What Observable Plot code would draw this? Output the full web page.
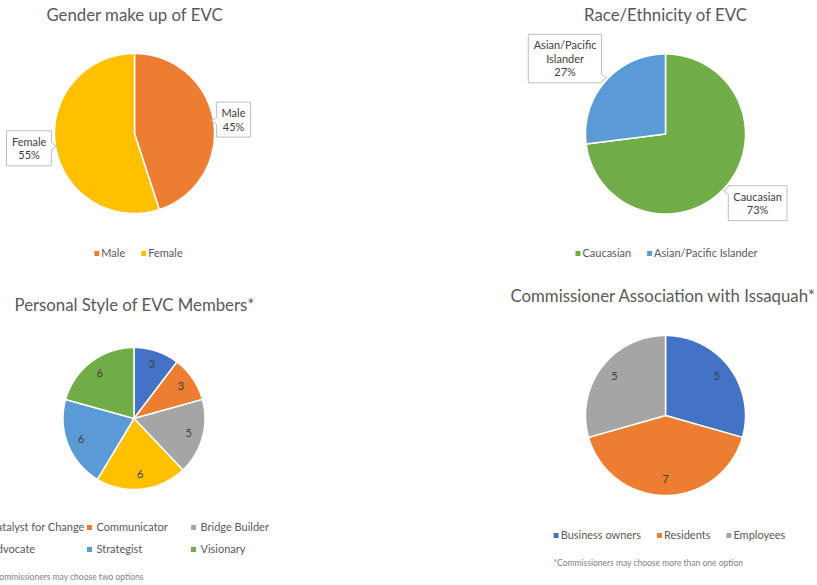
<!DOCTYPE html>
<html><head><meta charset="utf-8">
<script src="https://cdn.jsdelivr.net/npm/d3@7"></script>
<script src="https://cdn.jsdelivr.net/npm/@observablehq/plot@0.6"></script>
<style>body{margin:0;background:#fff;} #chart svg{display:block;}</style>
</head><body><div id="chart"></div>
<script>
// ---- data ----
const genderLabels = ["Male", "Female"];
const genderValues = [45, 55];
const raceLabels = ["Caucasian", "Asian/Pacific Islander"];
const raceValues = [73, 27];
const styleLabels = ["Catalyst for Change", "Communicator", "Bridge Builder", "Advocate", "Strategist", "Visionary"];
const styleValues = [3, 3, 5, 6, 6, 6];
const assocLabels = ["Business owners", "Residents", "Employees"];
const assocValues = [5, 7, 5];
const titles = ["Gender make up of EVC", "Race/Ethnicity of EVC", "Personal Style of EVC Members*", "Commissioner Association with Issaquah*"];
const footnotes = ["*Commissioners may choose two options", "*Commissioners may choose more than one option"];

// ---- style / layout ----
const C = {blue:"#4472C4", orange:"#ED7D31", gray:"#A5A5A5", gold:"#FFC000", lightBlue:"#5B9BD5", green:"#70AD47"};
const FONT = "Lato";
const TITLE_SIZE = 16.8, LEGEND_SIZE = 11, NOTE_SIZE = 8.5;
const charts = [
  {labels: genderLabels, values: genderValues, colors: [C.orange, C.gold], title: titles[0],
   cx: 134, cy: 133, r: 80, titleX: 134, titleY: 15, titleAnchor: "middle", label: "callout",
   factors: [1.25, 1.33], shift: 1,
   legend: {type: "row", cx: 138, y: 253}},
  {labels: raceLabels, values: raceValues, colors: [C.green, C.lightBlue], title: titles[1],
   cx: 665, cy: 133.5, r: 80, titleX: 665, titleY: 15, titleAnchor: "middle", label: "callout",
   factors: [1.44, 1.57], shift: -4.5,
   legend: {type: "row", cx: 666, y: 253}},
  {labels: styleLabels, values: styleValues, colors: [C.blue, C.orange, C.gray, C.gold, C.lightBlue, C.green], title: titles[2],
   cx: 133.5, cy: 418, r: 71, titleX: 14, titleY: 305, titleAnchor: "start", label: "inside",
   legend: {type: "grid", cols: [-18, 89, 193], rows: [527, 549]},
   footnote: {text: footnotes[0], x: 143, y: 577, anchor: "end"}},
  {labels: assocLabels, values: assocValues, colors: [C.blue, C.orange, C.gray], title: titles[3],
   cx: 665, cy: 415, r: 80, titleX: 510, titleY: 296, titleAnchor: "start", label: "inside",
   legend: {type: "row", cx: 669, y: 535},
   footnote: {text: footnotes[1], x: 553, y: 563, anchor: "start"}}
];

const ctx = document.createElement("canvas").getContext("2d");
function tw(s, size) { ctx.font = `${size}px ${FONT}`; return ctx.measureText(s).width; }
const clamp = (v, a, b) => Math.max(a, Math.min(b, v));

const polys = [], titleRows = [], insideLabels = [], callouts = [], boxTexts = [], legendDots = [], legendTexts = [], notes = [];

charts.forEach((ch, ci) => {
  const items = ch.labels.map((l, i) => ({name: l, value: ch.values[i], color: ch.colors[i]}));
  const total = d3.sum(items, d => d.value);
  const arcs = d3.pie().sort(null).value(d => d.value)(items);
  arcs.forEach((a, ai) => {
    const id = `${ci}-${ai}`;
    const n = Math.max(2, Math.ceil((a.endAngle - a.startAngle) / 0.01));
    polys.push({id, x: ch.cx, y: ch.cy, color: a.data.color});
    for (let k = 0; k <= n; k++) {
      const t = a.startAngle + (a.endAngle - a.startAngle) * k / n;
      polys.push({id, x: ch.cx + ch.r * Math.sin(t), y: ch.cy - ch.r * Math.cos(t), color: a.data.color});
    }
    const mid = (a.startAngle + a.endAngle) / 2;
    if (ch.label === "inside") {
      insideLabels.push({x: ch.cx + 0.8 * ch.r * Math.sin(mid), y: ch.cy - 0.8 * ch.r * Math.cos(mid), text: String(a.data.value)});
    } else {
      const ang = mid + ch.shift * Math.PI / 180, f = ch.factors[ai];
      const lx = ch.cx + f * ch.r * Math.sin(ang), ly = ch.cy - f * ch.r * Math.cos(ang);
      let name = a.data.name;
      if (tw(name, 11) > 65) name = name.replace(" ", "\n");
      const lines = [...name.split("\n"), Math.round(a.data.value / total * 100) + "%"];
      const w = d3.max(lines, s => tw(s, 11)) + 10, h = lines.length * 13.5 + 8;
      const x1 = lx - w / 2, x2 = lx + w / 2, y1 = ly - h / 2, y2 = ly + h / 2;
      // pointer toward the slice edge
      const ey = ch.cy - ch.r * Math.cos(mid);
      const py = clamp(ey, y1 + 5, y2 - 5);
      let pts;
      if (lx > ch.cx) {
        pts = [[x1, y1], [x2, y1], [x2, y2], [x1, y2], [x1, py + 3.5], [x1 - 5, py], [x1, py - 3.5]];
      } else {
        pts = [[x1, y1], [x2, y1], [x2, py - 3.5], [x2 + 5, py], [x2, py + 3.5], [x2, y2], [x1, y2]];
      }
      pts.forEach(([x, y]) => callouts.push({id, x, y}));
      boxTexts.push({x: lx, y: ly, text: lines.join("\n")});
    }
  });
  titleRows.push({x: ch.titleX, y: ch.titleY, text: ch.title, anchor: ch.titleAnchor});
  const L = ch.legend;
  if (L.type === "row") {
    const widths = items.map(d => 7 + tw(d.name, LEGEND_SIZE));
    const totalW = d3.sum(widths) + 16 * (items.length - 1);
    let x = L.cx - totalW / 2;
    items.forEach((d, i) => {
      legendDots.push({x: x + 2.5, y: L.y, color: d.color});
      legendTexts.push({x: x + 7, y: L.y, text: d.name});
      x += widths[i] + 16;
    });
  } else {
    items.forEach((d, i) => {
      const col = i % L.cols.length, row = Math.floor(i / L.cols.length);
      legendDots.push({x: L.cols[col], y: L.rows[row], color: d.color});
      legendTexts.push({x: L.cols[col] + 7, y: L.rows[row], text: d.name});
    });
  }
  if (ch.footnote) notes.push(ch.footnote);
});

const txt = {fontFamily: FONT};
const plot = Plot.plot({
  width: 817, height: 585, margin: 0,
  x: {domain: [0, 817], range: [0, 817], axis: null},
  y: {domain: [0, 585], range: [0, 585], axis: null},
  color: {type: "identity"},
  style: {fontFamily: FONT, background: "#fff"},
  marks: [
    Plot.line(polys, {x: "x", y: "y", z: "id", fill: "color", stroke: "#fff", strokeWidth: 1.5, curve: "linear-closed"}),
    Plot.text(insideLabels, {x: "x", y: "y", text: "text", fontSize: 11, fill: "#404040", ...txt}),
    Plot.line(callouts, {x: "x", y: "y", z: "id", fill: "#fff", stroke: "#BFBFBF", strokeWidth: 1, curve: "linear-closed"}),
    Plot.text(boxTexts, {x: "x", y: "y", text: "text", fontSize: 11, lineHeight: 1.23, fill: "#404040", ...txt}),
    Plot.text(titleRows.filter(d => d.anchor === "middle"), {x: "x", y: "y", text: "text", fontSize: TITLE_SIZE, fill: "#595959", textAnchor: "middle", ...txt}),
    Plot.text(titleRows.filter(d => d.anchor === "start"), {x: "x", y: "y", text: "text", fontSize: TITLE_SIZE, fill: "#595959", textAnchor: "start", ...txt}),
    Plot.dot(legendDots, {x: "x", y: "y", fill: "color", symbol: "square", r: 2.8}),
    Plot.text(legendTexts, {x: "x", y: "y", text: "text", fontSize: LEGEND_SIZE, fill: "#595959", textAnchor: "start", ...txt}),
    Plot.text(notes.filter(d => d.anchor === "end"), {x: "x", y: "y", text: "text", fontSize: NOTE_SIZE, fill: "#7F7F7F", textAnchor: "end", ...txt}),
    Plot.text(notes.filter(d => d.anchor === "start"), {x: "x", y: "y", text: "text", fontSize: NOTE_SIZE, fill: "#7F7F7F", textAnchor: "start", ...txt})
  ]
});
document.getElementById("chart").appendChild(plot);
</script>
</body></html>
